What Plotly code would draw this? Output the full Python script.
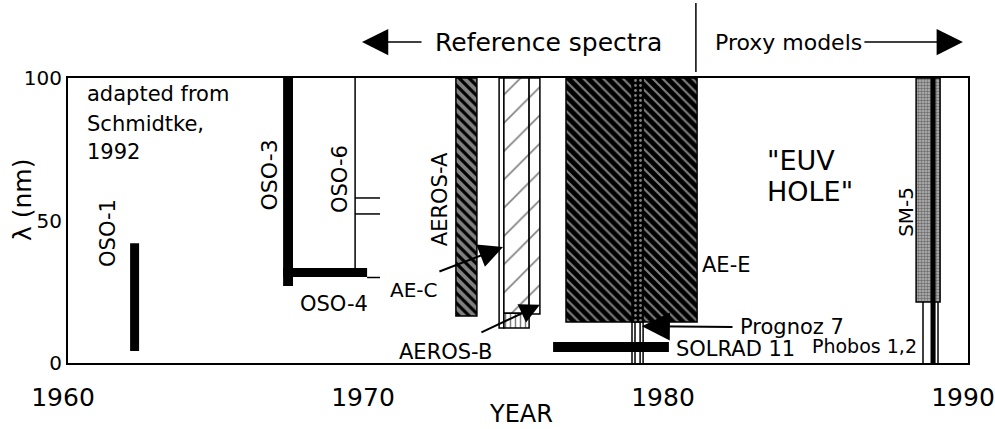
import plotly.graph_objects as go

FONT = "DejaVu Sans"

# ---------------- data ----------------
YEAR_TICKS = [1960, 1970, 1980, 1990]
NM_TICKS = [0, 50, 100]

# patterned / outlined coverage boxes (years, nm)
box_names = ["AE-E", "Prognoz 7 band", "AEROS-A", "AE-C col", "AE-C", "AE-C col2", "AEROS-B", "SM-5"]
box_start = [1976.60, 1978.80, 1972.93, 1974.37, 1974.53, 1975.37, 1974.53, 1988.27]
box_end = [1980.97, 1979.17, 1973.63, 1974.53, 1975.37, 1975.73, 1975.37, 1989.07]
box_low = [14.4, 14.4, 16.5, 12.3, 17.5, 17.2, 12.3, 21.4]
box_high = [100.0, 100.0, 100.0, 100.0, 100.0, 100.0, 17.5, 100.0]

# solid black coverage bars
solid_names = ["OSO-1", "OSO-3", "OSO-4", "SOLRAD 11", "Phobos 1,2"]
solid_start = [1962.07, 1967.17, 1967.17, 1976.17, 1988.75]
solid_end = [1962.37, 1967.50, 1969.97, 1980.03, 1988.92]
solid_low = [4.2, 27.0, 30.2, 3.9, 0.0]
solid_high = [42.0, 100.0, 33.3, 7.4, 100.0]

# thin line coverage segments
seg_x0 = [1969.57, 1969.57, 1969.57, 1969.97, 1978.80, 1978.90, 1979.07, 1979.17, 1988.50, 1989.00]
seg_x1 = [1969.57, 1970.40, 1970.40, 1970.40, 1978.80, 1978.90, 1979.07, 1979.17, 1988.50, 1989.00]
seg_y0 = [31.8, 57.9, 52.3, 30.0, 0.0, 0.0, 0.0, 0.0, 0.0, 0.0]
seg_y1 = [100.0, 57.9, 52.3, 30.0, 14.4, 14.4, 14.4, 14.4, 21.4, 21.4]

# ---------------- styles ----------------
box_style = {
    "AE-E": dict(shape="\\", size=7, solidity=0.3, fg="white", bg="black"),
    "Prognoz 7 band": dict(shape=".", size=5, solidity=0.25, fg="white", bg="black"),
    "AEROS-A": dict(shape="\\", size=7, solidity=0.55, fg="white", bg="black"),
    "AE-C col": dict(shape="", size=8, solidity=0.1, fg="black", bg="white"),
    "AE-C": dict(shape="/", size=20, solidity=0.08, fg="black", bg="white"),
    "AE-C col2": dict(shape="/", size=20, solidity=0.08, fg="black", bg="white"),
    "AEROS-B": dict(shape="|", size=5, solidity=0.3, fg="black", bg="white"),
    "SM-5": dict(shape=".", size=3, solidity=0.55, fg="#222222", bg="#bbbbbb"),
}

fig = go.Figure()

for i, name in enumerate(box_names):
    st = box_style[name]
    fig.add_trace(go.Bar(
        x=[(box_start[i] + box_end[i]) / 2],
        width=[box_end[i] - box_start[i]],
        base=[box_low[i]],
        y=[box_high[i] - box_low[i]],
        marker=dict(
            color=st["bg"],
            line=dict(color="black", width=1.5),
            pattern=dict(shape=st["shape"], size=st["size"], solidity=st["solidity"],
                         fgcolor=st["fg"], bgcolor=st["bg"], fillmode="overlay"),
        ),
        name=name, showlegend=False, hoverinfo="skip",
    ))

# thin lines
lx, ly = [], []
for a, b, c, d in zip(seg_x0, seg_x1, seg_y0, seg_y1):
    lx += [a, b, None]
    ly += [c, d, None]
fig.add_trace(go.Scatter(x=lx, y=ly, mode="lines", line=dict(color="black", width=1.5),
                         showlegend=False, hoverinfo="skip"))

# solid bars
fig.add_trace(go.Bar(
    x=[(s + e) / 2 for s, e in zip(solid_start, solid_end)],
    width=[e - s for s, e in zip(solid_start, solid_end)],
    base=solid_low,
    y=[h - l for h, l in zip(solid_high, solid_low)],
    marker=dict(color="black", line=dict(width=0)),
    showlegend=False, hoverinfo="skip",
))

# ---------------- labels ----------------
ann = []
def lab(text, x, y, size=21, angle=0, xanchor="center", yanchor="middle"):
    ann.append(dict(text=text, x=x, y=y, xref="x", yref="y", showarrow=False,
                    textangle=angle, xanchor=xanchor, yanchor=yanchor,
                    font=dict(family=FONT, size=size, color="black")))

lab("adapted from", 1960.57, 94.3, size=21, xanchor="left")
lab("Schmidtke,", 1960.57, 83.9, size=21, xanchor="left")
lab("1992", 1960.57, 74.0, size=21, xanchor="left")
lab("OSO-1", 1961.33, 45.6, size=21, angle=-90)
lab("OSO-3", 1966.72, 66.0, size=22, angle=-90)
lab("OSO-6", 1969.07, 64.6, size=21, angle=-90)
lab("AEROS-A", 1972.40, 57.5, size=21, angle=-90)
lab("OSO-4", 1968.87, 20.7, size=21)
lab("AE-C", 1971.52, 25.6, size=20)
lab("AEROS-B", 1972.57, 4.0, size=21)
lab("AE-E", 1981.93, 34.4, size=21)
lab("Prognoz 7", 1982.33, 12.6, size=21, xanchor="left")
lab("SOLRAD 11", 1980.20, 4.9, size=21, xanchor="left")
lab("Phobos 1,2", 1984.73, 6.0, size=19, xanchor="left")
lab("SM-5", 1987.93, 53.0, size=20, angle=-90)
lab("\"EUV", 1983.23, 71.2, size=27, xanchor="left")
lab("HOLE\"", 1983.23, 60.2, size=27, xanchor="left")

# arrows
def arrow(hx, hy, tx, ty, size=2.4):
    ann.append(dict(text="", x=hx, y=hy, ax=tx, ay=ty, xref="x", yref="y",
                    axref="x", ayref="y", showarrow=True, arrowhead=2,
                    arrowsize=size, arrowwidth=2.0, arrowcolor="black"))

arrow(1974.50, 40.7, 1972.33, 31.9)
arrow(1975.73, 20.4, 1973.73, 10.5, size=2.0)
arrow(1979.13, 12.9, 1982.20, 12.6, size=2.8)

# header
ann.append(dict(text="Reference spectra", x=1972.17, y=1.126, xref="x", yref="paper",
                showarrow=False, xanchor="left", yanchor="middle",
                font=dict(family=FONT, size=25, color="black")))
ann.append(dict(text="Proxy models", x=1981.5, y=1.126, xref="x", yref="paper",
                showarrow=False, xanchor="left", yanchor="middle",
                font=dict(family=FONT, size=22, color="black")))
ann.append(dict(text="", x=1969.8, y=1.126, xref="x", yref="paper", ax=61, ay=0,
                showarrow=True, arrowhead=2, arrowsize=3.5, arrowwidth=1.5, arrowcolor="black"))
ann.append(dict(text="", x=1989.83, y=1.126, xref="x", yref="paper", ax=-100, ay=0,
                showarrow=True, arrowhead=2, arrowsize=3.5, arrowwidth=1.5, arrowcolor="black"))
# axis titles
ann.append(dict(text="YEAR", x=1975.1, y=-0.178, xref="x", yref="paper", showarrow=False,
                xanchor="center", yanchor="middle", font=dict(family=FONT, size=24, color="black")))
ann.append(dict(text="λ (nm)", x=-0.05, y=0.572, xref="paper", yref="paper", showarrow=False,
                textangle=-90, xanchor="center", yanchor="middle",
                font=dict(family=FONT, size=25, color="black")))

fig.update_layout(
    width=995, height=429,
    margin=dict(l=68, r=27, t=78, b=66),
    paper_bgcolor="white", plot_bgcolor="white",
    barmode="overlay",
    annotations=ann,
    shapes=[dict(type="line", xref="x", yref="paper", x0=1980.93, x1=1980.93,
                 y0=1.021, y1=1.263, line=dict(color="black", width=1.5))],
    xaxis=dict(range=[1960, 1990], tickvals=YEAR_TICKS, ticks="", showgrid=False,
               zeroline=False, showline=True, mirror=True, linecolor="black", linewidth=2,
               tickfont=dict(family=FONT, size=25, color="black"), ticklabelstandoff=11,
               ticklabelshift=-5, ticklabeloverflow="allow", automargin=False),
    yaxis=dict(range=[0, 100], tickvals=NM_TICKS, ticks="", showgrid=False,
               zeroline=False, showline=True, mirror=True, linecolor="black", linewidth=2,
               tickfont=dict(family=FONT, size=20, color="black"), ticklabelstandoff=0,
               automargin=False),
)

fig.write_html("out.html")
